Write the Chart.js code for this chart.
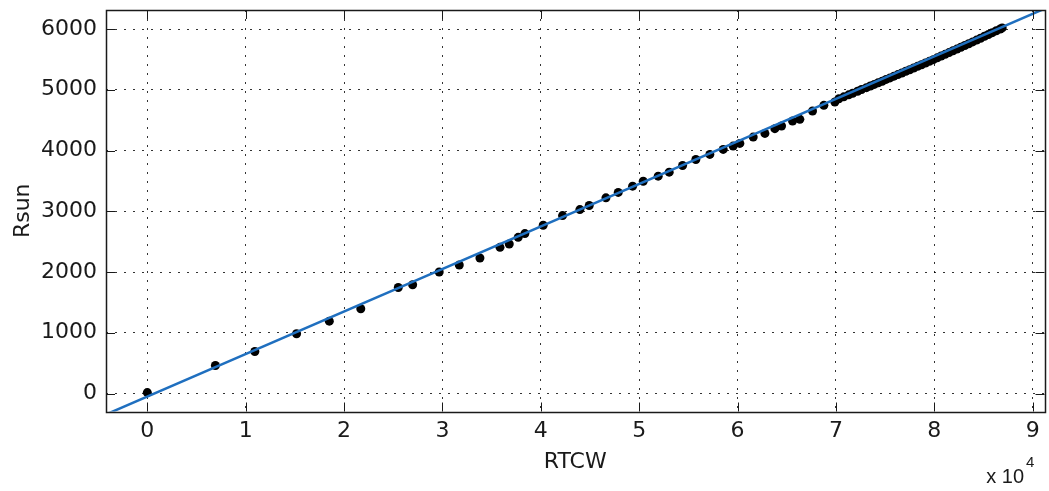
<!DOCTYPE html>
<html>
<head>
<meta charset="utf-8">
<script src="https://cdn.jsdelivr.net/npm/chart.js@4"></script>
<style>
  html, body { margin: 0; padding: 0; background: #fff; }
  #chart { display: block; }
</style>
</head>
<body>
<canvas id="chart" width="1049" height="491"></canvas>
<script>
// measured points (RTCW, Rsun)
const rtcw = [
  0, 6920, 10930, 15170, 18500, 21700, 25510, 26970, 29670, 31710,
  33810, 35850, 36790, 37700, 38380, 40240, 42210, 43970, 44920, 46620,
  47870, 49330, 50410, 51930, 53050, 54410, 55760, 57180, 58540, 59550,
  60230, 61590, 62780, 63790, 64470, 65590, 66330, 67620, 68770, 69890,
  70300, 70800, 71300, 71700, 72200, 72600, 73100, 73500, 73900, 74300,
  74700, 75100, 75500, 75900, 76300, 76700, 77100, 77500, 77900, 78300,
  78700, 79100, 79500, 79900, 80300, 80700, 81100, 81500, 81900, 82300,
  82700, 83100, 83500, 83900, 84300, 84700, 85100, 85500, 85900, 86300,
  86700, 86900
];
const rsun = [
  15, 461, 692, 983, 1191, 1395, 1746, 1790, 2000, 2115,
  2231, 2406, 2462, 2571, 2632, 2769, 2929, 3028, 3094, 3221,
  3310, 3413, 3495, 3578, 3644, 3754, 3853, 3936, 4018, 4073,
  4117, 4221, 4282, 4360, 4403, 4485, 4513, 4650, 4744, 4799,
  4852, 4884, 4916, 4942, 4975, 5004, 5035, 5062, 5088, 5116,
  5140, 5170, 5195, 5224, 5250, 5276, 5304, 5330, 5358, 5386,
  5412, 5440, 5468, 5496, 5526, 5555, 5583, 5612, 5642, 5670,
  5700, 5728, 5758, 5788, 5818, 5848, 5880, 5910, 5940, 5972,
  6000, 6018
];
// fitted line end points
const fitX = [-4200, 91200];
const fitY = [-344, 6334];

const xLimits = [-4200, 91200];
const yLimits = [-296, 6313];
const xTicks = [0, 10000, 20000, 30000, 40000, 50000, 60000, 70000, 80000, 90000];
const yTicks = [0, 1000, 2000, 3000, 4000, 5000, 6000];

const FONT = "'DejaVu Sans', sans-serif";
const INK = "#1a1a1a";

const pts = rtcw.map((x, i) => ({ x: x, y: rsun[i] }));
const fit = fitX.map((x, i) => ({ x: x, y: fitY[i] }));

// box, inward ticks on all sides and the exponent label
const matlabAxes = {
  id: "matlabAxes",
  afterDraw(chart) {
    const { ctx, chartArea: a, scales } = chart;
    const tl = 9;
    ctx.save();
    ctx.strokeStyle = INK;
    ctx.lineWidth = 1;
    ctx.beginPath();
    scales.x.ticks.forEach((t) => {
      const px = Math.round(scales.x.getPixelForValue(t.value)) + 0.5;
      ctx.moveTo(px, a.bottom); ctx.lineTo(px, a.bottom - tl);
      ctx.moveTo(px, a.top); ctx.lineTo(px, a.top + tl);
    });
    scales.y.ticks.forEach((t) => {
      const py = Math.round(scales.y.getPixelForValue(t.value)) + 0.5;
      ctx.moveTo(a.left, py); ctx.lineTo(a.left + tl, py);
      ctx.moveTo(a.right, py); ctx.lineTo(a.right - tl, py);
    });
    ctx.stroke();
    ctx.lineWidth = 1.5;
    ctx.strokeRect(Math.round(a.left) + 0.5, Math.round(a.top) + 0.5,
      Math.round(a.right - a.left), Math.round(a.bottom - a.top));

    ctx.fillStyle = INK;
    ctx.textBaseline = "alphabetic";
    ctx.textAlign = "right";
    ctx.font = "20px 'Liberation Sans', sans-serif";
    ctx.fillText("x 10", 1024, 483);
    ctx.textAlign = "left";
    ctx.font = "15px 'Liberation Sans', sans-serif";
    ctx.fillText("4", 1026, 467);
    ctx.restore();
  },
};

new Chart(document.getElementById("chart"), {
  type: "scatter",
  data: {
    datasets: [
      {
        label: "fit",
        data: fit,
        showLine: true,
        borderColor: "#1f6fbf",
        borderWidth: 2.5,
        pointRadius: 0,
        clip: 0,
        order: 0,
      },
      {
        label: "data",
        data: pts,
        backgroundColor: "#000",
        borderColor: "#000",
        pointRadius: 4.5,
        borderWidth: 0,
        order: 1,
      },
    ],
  },
  options: {
    responsive: false,
    animation: false,
    events: [],
    layout: { padding: { top: 10, right: 4.5, left: 0, bottom: 0 } },
    plugins: {
      legend: { display: false },
      tooltip: { enabled: false },
    },
    scales: {
      x: {
        type: "linear",
        min: xLimits[0],
        max: xLimits[1],
        afterBuildTicks: (s) => { s.ticks = xTicks.map((v) => ({ value: v })); },
        afterFit: (s) => { s.height = 79.5; s.paddingLeft = 0; s.paddingRight = 0; },
        grid: { color: "rgba(0,0,0,0.8)", lineWidth: 1, drawTicks: false },
        border: { display: false, dash: [2, 7] },
        ticks: {
          padding: 7,
          color: INK,
          font: { family: FONT, size: 22 },
          maxRotation: 0,
          autoSkip: false,
          callback: (v) => String(v / 10000),
        },
        title: {
          display: true,
          text: "RTCW",
          color: INK,
          font: { family: FONT, size: 22 },
          padding: { top: 0, bottom: 16 },
        },
      },
      y: {
        type: "linear",
        min: yLimits[0],
        max: yLimits[1],
        afterBuildTicks: (s) => { s.ticks = yTicks.map((v) => ({ value: v })); },
        afterFit: (s) => { s.width = 106; s.paddingTop = 0; s.paddingBottom = 0; },
        grid: { color: "rgba(0,0,0,0.8)", lineWidth: 1, drawTicks: false },
        border: { display: false, dash: [2, 7] },
        ticks: {
          padding: 9,
          color: INK,
          autoSkip: false,
          font: { family: FONT, size: 22 },
          callback: (v) => String(v),
        },
        title: {
          display: true,
          text: "Rsun",
          color: INK,
          font: { family: FONT, size: 22 },
          padding: { top: 10, bottom: 0 },
        },
      },
    },
  },
  plugins: [matlabAxes],
});
</script>
</body>
</html>
